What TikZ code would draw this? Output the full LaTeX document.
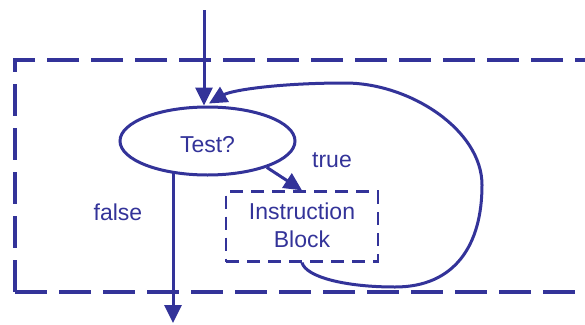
\documentclass[tikz,border=0pt]{standalone}
\usepackage{fontspec}
\setmainfont{Liberation Sans}
\usetikzlibrary{shapes.geometric,arrows.meta}
\definecolor{fc}{RGB}{51,51,153}
\begin{document}
\begin{tikzpicture}[x=1pt,y=-1pt,
  flow/.style={draw=fc, line width=3pt},
  arr/.style={flow, -{Triangle[length=18pt,width=17pt]}},
  lbl/.style={text=fc, font=\fontsize{23}{28}\selectfont, inner sep=0pt, anchor=base},
  frame/.style={draw=fc, line width=3.3pt, dash pattern=on 32pt off 12pt},
  decision/.style={ellipse, draw=fc, line width=3pt, minimum width=175pt, minimum height=68pt, inner sep=0pt},
  blockbox/.style={draw=fc, line width=2.3pt, dash pattern=on 13pt off 8pt, minimum width=152pt, minimum height=70pt, inner sep=0pt},
]
\clip (0,0) rectangle (585,324);
% outer dashed frame
\draw[frame, dash phase=7pt] (600,60) -- (15,60) -- (15,292);
\draw[frame] (15,292) -- (600,292);
% nodes
\node (test) [decision] at (207.5,141) {};
\node (testlbl) [lbl] at (207.5,152) {Test?};
\node (block) [blockbox] at (302,226.5) {};
\node (l1) [lbl] at (302,219) {Instruction};
\node (l2) [lbl] at (302,247) {Block};
\node (truelbl) [lbl] at (332,167) {true};
\node (falselbl) [lbl] at (118,220) {false};
% connectors
\coordinate (topin) at (204,10);
\coordinate (out) at (173,323);
\draw[arr] (topin) -- (test.north -| topin);
\draw[arr] ([yshift=5pt]test.south -| out) -- (out);
\draw[arr] (test.-24) -- (block.north);
\draw[arr] (block.south) .. controls (306,277) and (345,287) .. (395,287)
  .. controls (455,287) and (482,245) .. (482,185)
  .. controls (482,130) and (410,83) .. (345,83)
  .. controls (280,83) and (232,90) .. ([xshift=1.5pt,yshift=2pt]test.north);
\end{tikzpicture}
\end{document}
